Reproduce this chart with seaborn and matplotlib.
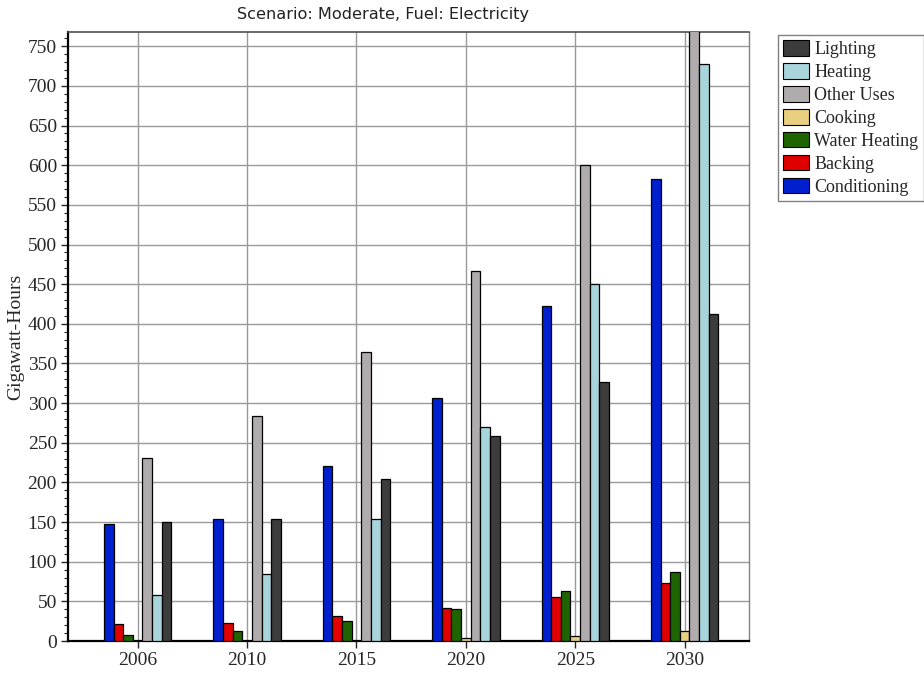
import matplotlib
matplotlib.use("Agg")
import matplotlib.pyplot as plt
from matplotlib.ticker import MultipleLocator
from matplotlib.patches import Patch
import seaborn as sns
import pandas as pd

years = ["2006", "2010", "2015", "2020", "2025", "2030"]
uses = ["Conditioning", "Backing", "Water Heating", "Cooking",
        "Other Uses", "Heating", "Lighting"]

conditioning = [148, 154, 221, 307, 423, 582]
backing = [21, 23, 32, 42, 56, 73]
water_heating = [8, 13, 25, 41, 63, 87]
cooking = [0.5, 0.5, 0.5, 4, 6, 13]
other_uses = [231, 284, 365, 466, 600, 790]
heating = [58, 84, 154, 270, 450, 728]
lighting = [150, 154, 204, 259, 327, 413]

colors = ["#0020D0", "#E00000", "#1E6400", "#E8D080",
          "#B0ABAD", "#A8D4DC", "#3C3C3C"]

series = [conditioning, backing, water_heating, cooking,
          other_uses, heating, lighting]
rows = []
for use, vals in zip(uses, series):
    for yr, v in zip(years, vals):
        rows.append({"Year": yr, "Use": use, "GWh": v})
df = pd.DataFrame(rows)

sns.set_style("white")
serif = ["Liberation Serif", "DejaVu Serif"]

fig = plt.figure(figsize=(9.24, 6.73), dpi=100)
ax = fig.add_axes([0.0736, 0.0475, 0.737, 0.905])

sns.barplot(data=df, x="Year", y="GWh", hue="Use", hue_order=uses,
            order=years, palette=colors, width=0.615, gap=0,
            edgecolor="black", linewidth=0.9, saturation=1,
            errorbar=None, legend=False, ax=ax, zorder=3)

ax.set_xlim(-0.637, 5.588)
ax.set_ylim(0, 768)
ax.yaxis.set_major_locator(MultipleLocator(50))
ax.yaxis.set_minor_locator(MultipleLocator(10))
ax.grid(True, which="major", axis="both", color="#9A9A9A", linewidth=1.0, zorder=0)
ax.set_axisbelow(True)

ax.tick_params(axis="y", which="major", direction="out", length=5, width=1,
               left=True, labelsize=14, pad=3)
ax.tick_params(axis="y", which="minor", direction="out", length=3, width=0.8, left=True)
ax.tick_params(axis="x", which="major", direction="out", length=5, width=1,
               bottom=True, labelsize=14, pad=3)
for lbl in ax.get_xticklabels() + ax.get_yticklabels():
    lbl.set_family(serif)

ax.set_xlabel("")
ax.set_ylabel("Gigawatt-Hours", family=serif, fontsize=14)
ax.yaxis.set_label_coords(-0.0646, 0.5)
fig.text(383 / 924, 1 - 14 / 673, "Scenario: Moderate, Fuel: Electricity",
         fontsize=11.6, family=["DejaVu Sans"], color="#222222",
         ha="center", va="center")

for side in ["left", "bottom"]:
    ax.spines[side].set_color("black")
    ax.spines[side].set_linewidth(1.6)
ax.spines["top"].set_color("#505050")
ax.spines["top"].set_linewidth(1.2)
ax.spines["right"].set_color("#808080")
ax.spines["right"].set_linewidth(1.0)

handles = [Patch(facecolor=c, edgecolor="black", linewidth=0.8, label=u)
           for u, c in zip(uses, colors)][::-1]
leg = fig.legend(handles=handles, loc="upper left",
                 bbox_to_anchor=(778 / 924, 1 - 35 / 673),
                 prop={"family": serif, "size": 13},
                 frameon=True, fancybox=False, edgecolor="#606060",
                 borderpad=0.3, labelspacing=0.27, handlelength=1.4,
                 handleheight=0.95, handletextpad=0.3, borderaxespad=0)
leg.get_frame().set_linewidth(1.0)

fig.savefig("out.png", dpi=100)
